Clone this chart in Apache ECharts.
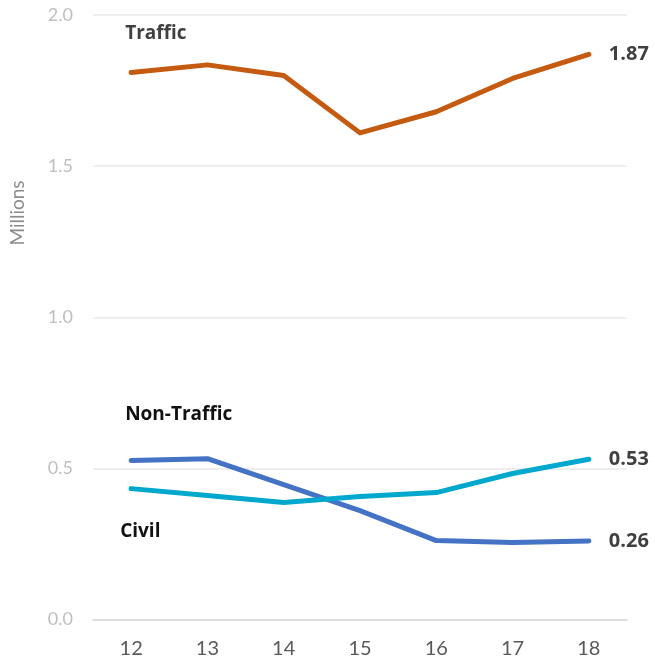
<!DOCTYPE html>
<html>
<head>
<meta charset="utf-8">
<script src="https://cdn.jsdelivr.net/npm/echarts@6/dist/echarts.min.js"></script>
<style>
  html, body { margin: 0; padding: 0; background: #fff; }
  #chart { width: 655px; height: 664px; }
</style>
</head>
<body>
<div id="chart"></div>
<script>
const years = ['12', '13', '14', '15', '16', '17', '18']
const traffic = [1.81, 1.835, 1.80, 1.61, 1.68, 1.79, 1.87]
const nonTraffic = [0.526, 0.532, 0.446, 0.36, 0.261, 0.255, 0.26]
const civil = [0.433, 0.41, 0.387, 0.407, 0.42, 0.483, 0.53]

const font = 'Lato'
const boldFont = 'Open Sans'

// name label only on the first point, value label at the end
function makeSeries(name, data, color, pos, offset, labelColor) {
  return {
    name: name,
    type: 'line',
    data: data,
    symbol: 'circle',
    symbolSize: 0,
    lineStyle: { color: color, width: 5, cap: 'round', join: 'round' },
    itemStyle: { color: color },
    label: {
      show: true,
      position: pos,
      distance: 0,
      align: 'left',
      offset: offset,
      fontFamily: boldFont,
      fontWeight: 'bold',
      fontSize: 19,
      color: labelColor,
      formatter: (p) => p.dataIndex === 0 ? name : ''
    },
    endLabel: {
      show: true,
      distance: 20,
      fontFamily: boldFont,
      fontWeight: 'bold',
      fontSize: 20,
      color: '#404040',
      formatter: (p) => p.value.toFixed(2)
    },
    emphasis: { disabled: true }
  }
}

const chart = echarts.init(document.getElementById('chart'))
chart.setOption({
  animation: false,
  grid: { left: 93, right: 28, top: 15, bottom: 44.5 },
  xAxis: {
    type: 'category',
    data: years,
    boundaryGap: true,
    axisLine: { show: true, lineStyle: { color: '#d9d9d9', width: 1.5 } },
    axisTick: { show: false },
    axisLabel: { color: '#595959', fontSize: 20, fontFamily: font, margin: 19 }
  },
  yAxis: {
    type: 'value',
    min: 0,
    max: 2,
    interval: 0.5,
    axisLine: { show: false },
    axisTick: { show: false },
    splitLine: { lineStyle: { color: '#e8e8e8', width: 1.5 } },
    axisLabel: {
      color: '#bfbfbf',
      fontSize: 18,
      fontFamily: font,
      margin: 20,
      formatter: (v) => v.toFixed(1)
    }
  },
  graphic: [{
    type: 'text',
    x: 18,
    y: 213,
    rotation: Math.PI / 2,
    style: {
      text: 'Millions',
      fill: '#8c8c8c',
      font: '19px ' + font,
      align: 'center',
      verticalAlign: 'middle'
    }
  }],
  series: [
    makeSeries('Traffic', traffic, '#C55A11', 'top', [-6, -29], '#404040'),
    makeSeries('Non-Traffic', nonTraffic, '#4472C4', 'top', [-6, -36], '#111111'),
    makeSeries('Civil', civil, '#00A8CE', 'bottom', [-11, 33], '#111111')
  ]
})
</script>
</body>
</html>
